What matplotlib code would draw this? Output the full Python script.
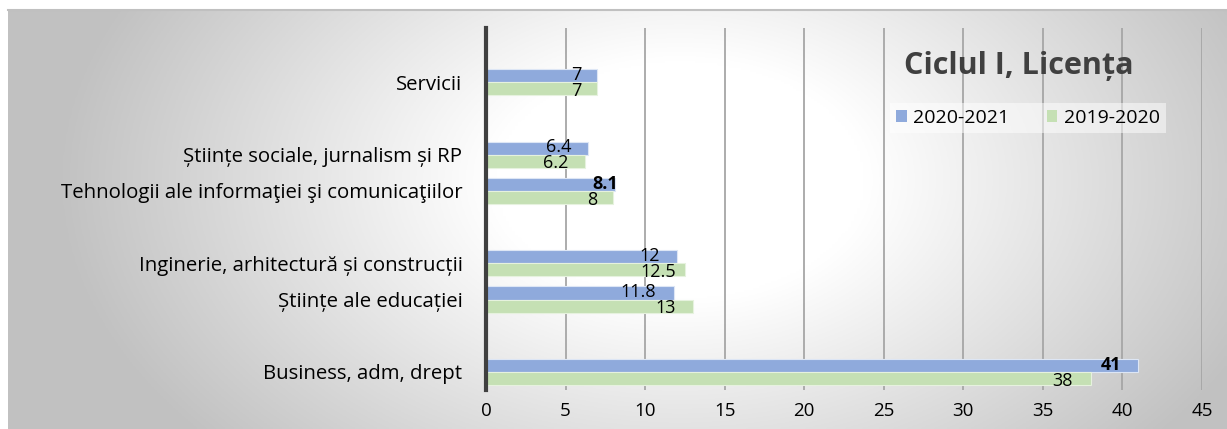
import numpy as np
import matplotlib
matplotlib.use("Agg")
import matplotlib.pyplot as plt
from matplotlib.patches import Patch

plt.rcParams['font.family'] = ['Open Sans', 'DejaVu Sans']

# Categories, bottom to top; empty strings are the blank slots of the original chart
categories = ['Business, adm, drept', '', 'Științe ale educației',
              'Inginerie, arhitectură și construcții', '',
              'Tehnologii ale informaţiei şi comunicaţiilor',
              'Științe sociale, jurnalism și RP', '', 'Servicii', '']
val_2021 = [41, None, 11.8, 12, None, 8.1, 6.4, None, 7, None]
val_2020 = [38, None, 13, 12.5, None, 8, 6.2, None, 7, None]
bold_2021 = [True, False, False, False, False, True, False, False, False, False]
xticks = [0, 5, 10, 15, 20, 25, 30, 35, 40, 45]

# where the data labels sit, left of the bar end (in axis units)
shift_2021 = [1.75, 0, 2.25, 1.7, 0, 0.6, 1.85, 0, 1.35, 0]
shift_2020 = [1.75, 0, 1.7, 1.7, 0, 1.35, 1.85, 0, 1.35, 0]

c_2021 = '#8faadc'
c_2020 = '#c5e0b4'

W, H = 1227, 429
fig = plt.figure(figsize=(W / 100, H / 100), dpi=100)
fig.patch.set_facecolor('white')

# gradient background of the chart area
bg = fig.add_axes([8 / W, 0, 1 - 8 / W, 1 - 10 / H])
xx, yy = np.meshgrid(np.linspace(8, W, 400), np.linspace(10, H, 200))
d = np.sqrt(((xx - 680) / 620) ** 2 + ((yy - 180) / 400) ** 2)
t = np.clip((d - 0.3) / 0.7, 0, 1)
g = 1.0 - t * (1.0 - 0.76)
bg.imshow(np.dstack([g, g, g]), aspect='auto', extent=(0, 1, 0, 1))
bg.set_axis_off()
fig.add_artist(plt.Line2D([8 / W, 1], [1 - 10 / H] * 2, color='#c0c0c0', lw=1.5))

ax = fig.add_axes([486 / W, 1 - 390 / H, 716 / W, 362 / H])
ax.set_facecolor('none')

y = np.arange(len(categories))
h = 0.36
b1 = [v if v is not None else 0 for v in val_2021]
b2 = [v if v is not None else 0 for v in val_2020]
ax.barh(y + h / 2, b1, height=h, color=c_2021, edgecolor='#dde6f5', linewidth=0.8, zorder=3)
ax.barh(y - h / 2, b2, height=h, color=c_2020, edgecolor='#e6f2de', linewidth=0.8, zorder=3)

for i in range(len(categories)):
    if val_2021[i] is not None:
        ax.text(val_2021[i] - shift_2021[i], y[i] + h / 2 + 0.02, f'{val_2021[i]:g}',
                ha='center', va='center', fontsize=13,
                fontweight='bold' if bold_2021[i] else 'normal', color='black', zorder=4)
    if val_2020[i] is not None:
        ax.text(val_2020[i] - shift_2020[i], y[i] - h / 2 - 0.06, f'{val_2020[i]:g}',
                ha='center', va='center', fontsize=13, color='black', zorder=4)

ax.set_xlim(0, 45)
ax.set_ylim(-0.5, len(categories) - 0.5)
ax.set_xticks(xticks)
ax.set_yticks(y)
ax.set_yticklabels(categories, fontsize=14.7)
ax.tick_params(axis='y', length=0, pad=17)
ax.tick_params(axis='x', length=0, pad=9, labelsize=13.5, colors='black')
ax.grid(axis='x', color='#a6a6a6', linewidth=1.3, zorder=1)
for s in ['top', 'right', 'bottom']:
    ax.spines[s].set_visible(False)
ax.spines['left'].set_color('#404040')
ax.spines['left'].set_linewidth(3)
ax.spines['left'].set_zorder(5)

fig.text(1019 / W, 1 - 66 / H, 'Ciclul I, Licența', ha='center', va='center',
         fontsize=22, fontweight='bold', color='#404040')
handles = [Patch(facecolor=c_2021, edgecolor='none', label='2020-2021'),
           Patch(facecolor=c_2020, edgecolor='none', label='2019-2020')]
leg = fig.legend(handles=handles, loc='center', bbox_to_anchor=(1028 / W, 1 - 118 / H),
                 ncol=2, fontsize=14, frameon=True, handlelength=0.55, handleheight=0.55,
                 handletextpad=0.35, columnspacing=1.9, borderpad=0.3, fancybox=False)
leg.get_frame().set_facecolor('white')
leg.get_frame().set_alpha(0.5)
leg.get_frame().set_edgecolor('none')

fig.savefig('out.png', dpi=100)
